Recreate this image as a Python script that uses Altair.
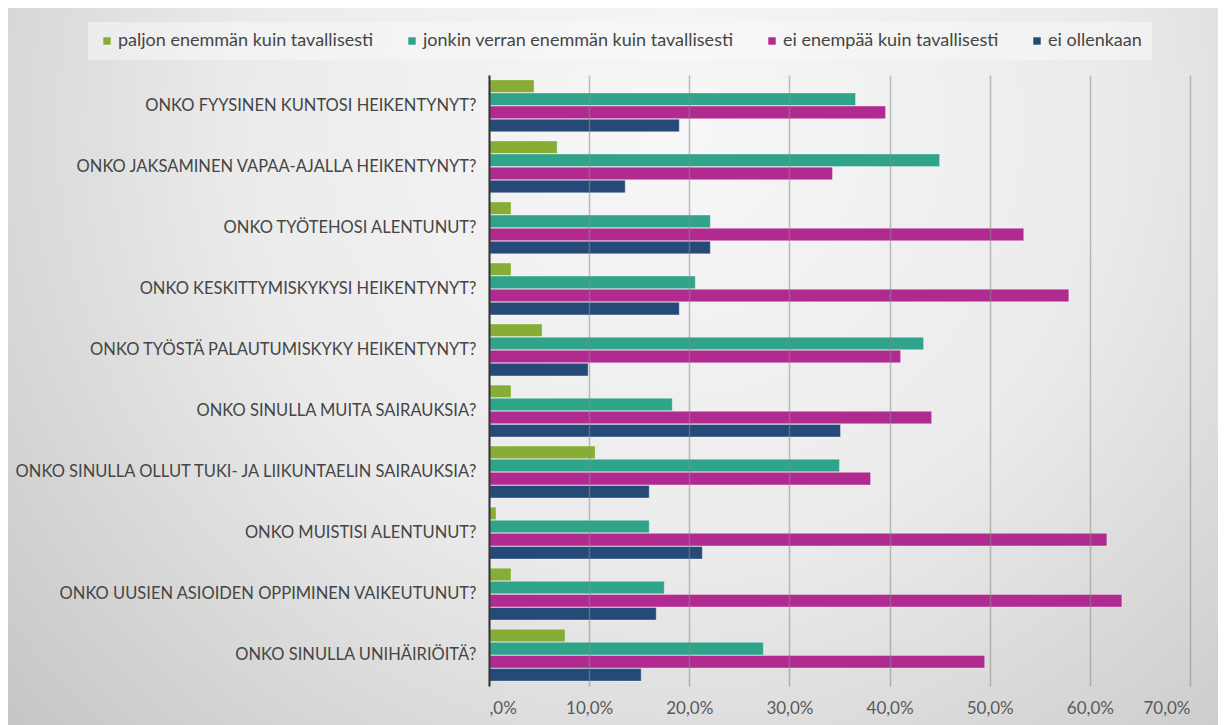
import altair as alt
import pandas as pd

categories = [
    "ONKO FYYSINEN KUNTOSI HEIKENTYNYT?",
    "ONKO JAKSAMINEN VAPAA-AJALLA HEIKENTYNYT?",
    "ONKO TYÖTEHOSI ALENTUNUT?",
    "ONKO KESKITTYMISKYKYSI HEIKENTYNYT?",
    "ONKO TYÖSTÄ PALAUTUMISKYKY HEIKENTYNYT?",
    "ONKO SINULLA MUITA SAIRAUKSIA?",
    "ONKO SINULLA OLLUT TUKI- JA LIIKUNTAELIN SAIRAUKSIA?",
    "ONKO MUISTISI ALENTUNUT?",
    "ONKO UUSIEN ASIOIDEN OPPIMINEN VAIKEUTUNUT?",
    "ONKO SINULLA UNIHÄIRIÖITÄ?",
]
series_names = [
    "paljon enemmän kuin tavallisesti",
    "jonkin verran enemmän kuin tavallisesti",
    "ei enempää kuin tavallisesti",
    "ei ollenkaan",
]
paljon = [4.5, 6.8, 2.2, 2.2, 5.3, 2.2, 10.6, 0.7, 2.2, 7.6]
jonkin = [36.6, 45.0, 22.1, 20.6, 43.4, 18.3, 35.0, 16.0, 17.5, 27.4]
ei_enempaa = [39.6, 34.3, 53.4, 57.9, 41.1, 44.2, 38.1, 61.7, 63.2, 49.5]
ei_ollenkaan = [19.0, 13.6, 22.1, 19.0, 9.9, 35.1, 16.0, 21.3, 16.7, 15.2]
colors = ["#87AD37", "#30A38B", "#B02A8F", "#264A78"]
x_ticks = [0, 10, 20, 30, 40, 50, 60, 70]

rows = []
for s, vals in zip(series_names, [paljon, jonkin, ei_enempaa, ei_ollenkaan]):
    for c, v in zip(categories, vals):
        rows.append({"kysymys": c, "vastaus": s, "osuus": v})
df = pd.DataFrame(rows)

FONT = "Lato"
W, H = 701, 611
PL, PT = 489, 75

bg = alt.Chart(pd.DataFrame({"a": [0]})).mark_rect(
    fill={
        "gradient": "radial",
        "x1": 0.55, "y1": 0.3, "x2": 0.55, "y2": 0.3,
        "r1": 0, "r2": 0.8,
        "stops": [
            {"offset": 0, "color": "#f7f7f7"},
            {"offset": 0.45, "color": "#ebebeb"},
            {"offset": 1, "color": "#c0c0c0"},
        ],
    }
).encode(
    x=alt.value(8 - PL), x2=alt.value(1218 - PL),
    y=alt.value(8 - PT), y2=alt.value(730 - PT),
)

bars = alt.Chart(df).mark_bar(
    stroke="#ffffff", strokeOpacity=0.35, strokeWidth=1
).encode(
    x=alt.X("osuus:Q",
            scale=alt.Scale(domain=[0, 70], nice=False),
            axis=alt.Axis(values=x_ticks, title=None, domain=False, ticks=False,
                          grid=True, gridColor="#8a8a8a", gridWidth=1.5, gridOpacity=0.55,
                          labelFontSize=17, labelColor="#595959", labelFont=FONT,
                          labelPadding=14, zindex=1,
                          labelExpr="datum.value == 0 ? ',0%' : replace(format(datum.value, '.1f'), '.', ',') + '%'")),
    y=alt.Y("kysymys:N", sort=categories,
            scale=alt.Scale(paddingInner=0.15, paddingOuter=0.08),
            axis=alt.Axis(title=None, ticks=False, domain=True, domainColor="#333333",
                          domainWidth=2, labelFontSize=16.5, labelColor="#454545",
                          labelFont=FONT, labelPadding=13, labelLimit=700, zindex=1)),
    yOffset=alt.YOffset("vastaus:N", sort=series_names,
                        scale=alt.Scale(paddingInner=0.04)),
    color=alt.Color("vastaus:N", sort=series_names,
                    scale=alt.Scale(domain=series_names, range=colors),
                    legend=alt.Legend(title=None, orient="none", direction="horizontal",
                                      columns=4, legendX=88 - PL, legendY=22 - PT,
                                      labelFontSize=18, labelFont=FONT, labelColor="#454545",
                                      symbolType="square", symbolSize=55, symbolStrokeWidth=0,
                                      columnPadding=29, labelOffset=2, padding=10,
                                      fillColor="rgba(248,248,248,0.55)",
                                      labelLimit=500)),
)

chart = alt.layer(bg, bars).properties(
    width=W, height=H,
    autosize=alt.AutoSizeParams(type="none"),
    padding={"left": PL, "top": PT, "right": 1227 - PL - W, "bottom": 725 - PT - H},
    background="#ffffff",
).configure_view(stroke=None)

chart.save("out.html", embed_options={"renderer": "svg", "actions": False})
